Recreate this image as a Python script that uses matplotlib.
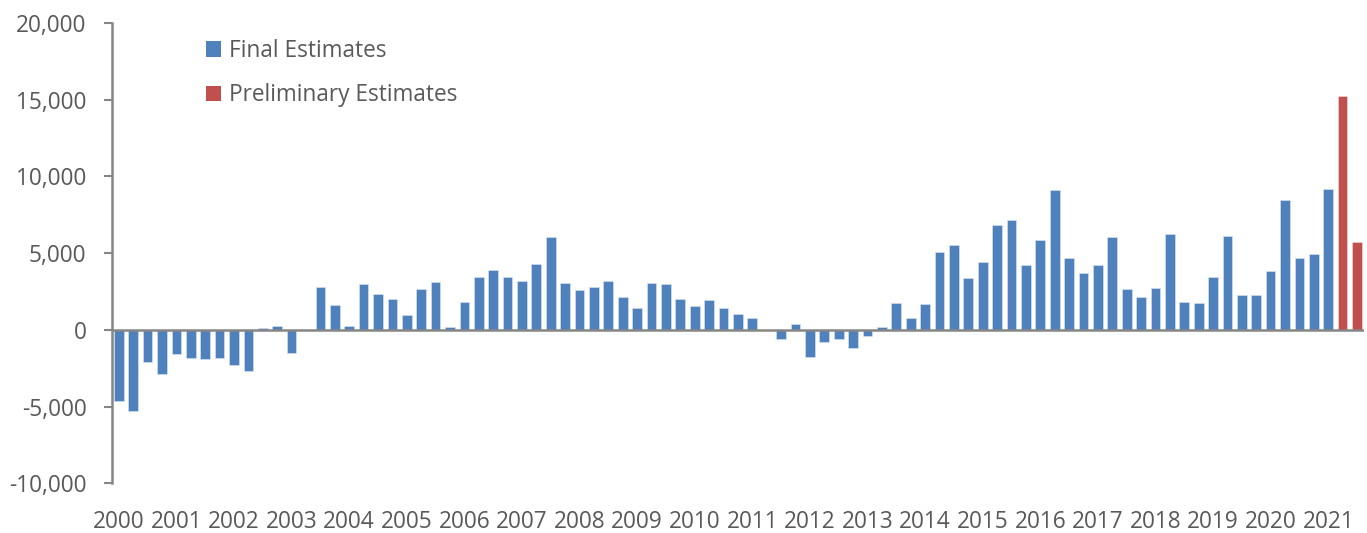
import matplotlib
matplotlib.use("Agg")
import matplotlib.pyplot as plt
from matplotlib.patches import Patch
from matplotlib.ticker import FuncFormatter

# Quarterly values, 2000 Q1 .. 2021 Q3
years = list(range(2000, 2022))
final_estimates = [
    -4600, -5300, -2100, -2850,   # 2000
    -1550, -1850, -1900, -1800,   # 2001
    -2300, -2650, 100, 250,       # 2002
    -1500, 0, 2800, 1650,         # 2003
    290, 3020, 2350, 2000,        # 2004
    1000, 2700, 3100, 220,        # 2005
    1850, 3450, 3900, 3480,       # 2006
    3200, 4300, 6080, 3060,       # 2007
    2600, 2800, 3170, 2160,       # 2008
    1430, 3080, 3020, 2000,       # 2009
    1590, 1960, 1430, 1060,       # 2010
    750, 0, -570, 400,            # 2011
    -1780, -790, -600, -1170,     # 2012
    -400, 220, 1790, 770,         # 2013
    1700, 5090, 5550, 3390,       # 2014
    4450, 6830, 7140, 4250,       # 2015
    5880, 9120, 4710, 3700,       # 2016
    4250, 6040, 2690, 2180,       # 2017
    2730, 6260, 1850, 1790,       # 2018
    3460, 6100, 2270, 2250,       # 2019
    3830, 8480, 4710, 4960,       # 2020
    9210,                         # 2021 Q1
]
preliminary_estimates = [15230, 5730]  # 2021 Q2, Q3
series_names = ["Final Estimates", "Preliminary Estimates"]
y_ticks = [-10000, -5000, 0, 5000, 10000, 15000, 20000]

BLUE = "#4F81BD"
RED = "#C0504D"
AXIS = "#868686"
TEXT = "#595959"
FONT = "Open Sans"
FS = 16.3

n_final = len(final_estimates)
n_total = n_final + len(preliminary_estimates)
x_final = list(range(n_final))
x_prelim = list(range(n_final, n_total))

fig = plt.figure(figsize=(13.67, 5.33), dpi=100)
ax = fig.add_axes([0.0816, 0.0929, 0.9164, 0.8640])

ax.bar(x_final, final_estimates, width=0.67, color=BLUE,
       edgecolor="#dbe5f1", linewidth=0.4, zorder=2)
ax.bar(x_prelim, preliminary_estimates, width=0.67, color=RED,
       edgecolor="#f2dcdb", linewidth=0.4, zorder=2)

ax.set_xlim(-0.5, n_total - 0.5)
ax.set_ylim(-10000, 20000)
ax.set_yticks(y_ticks)
ax.yaxis.set_major_formatter(FuncFormatter(lambda v, p: f"{int(v):,}"))

ax.axhline(0, color=AXIS, lw=1.8, zorder=3)

for s in ["top", "right", "bottom"]:
    ax.spines[s].set_visible(False)
ax.spines["left"].set_color(AXIS)
ax.spines["left"].set_linewidth(1.8)

ax.tick_params(axis="y", length=6, width=1.5, color=AXIS, direction="out",
               labelsize=FS, labelcolor=TEXT, pad=12)
ax.set_xticks([4 * i for i in range(len(years))])
ax.set_xticklabels([str(y) for y in years])
ax.tick_params(axis="x", length=0, labelsize=FS, labelcolor=TEXT, pad=19)
for lbl in ax.get_xticklabels() + ax.get_yticklabels():
    lbl.set_fontfamily(FONT)

handles = [Patch(facecolor=BLUE), Patch(facecolor=RED)]
leg = ax.legend(handles, series_names, loc="upper left",
                bbox_to_anchor=(0.0754, 0.965), frameon=False,
                borderpad=0, borderaxespad=0,
                handlelength=0.68, handleheight=0.68, handletextpad=0.32,
                labelspacing=0.9, prop={"family": FONT, "size": FS})
for t in leg.get_texts():
    t.set_color(TEXT)

fig.savefig("out.png", dpi=100)
